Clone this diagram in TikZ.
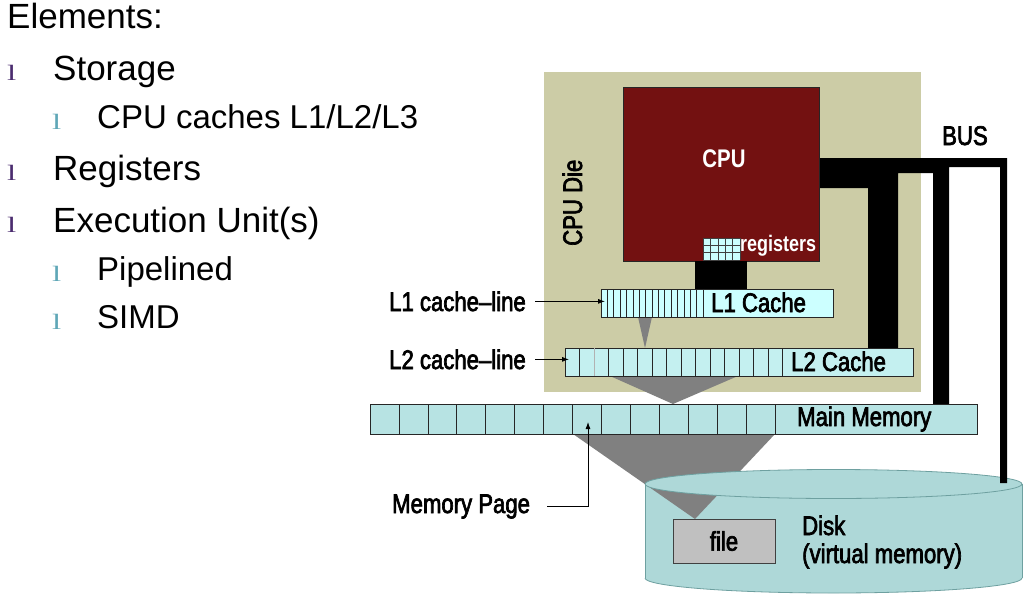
\documentclass[tikz,border=0pt]{standalone}
\usepackage{fontspec}
\setmainfont{Liberation Sans}
\newfontfamily\nar[FakeStretch=0.82,FakeBold=2.5]{Liberation Sans}
\newfontfamily\narbf[FakeStretch=0.8]{Liberation Sans Bold}
\newfontfamily\bulf[FakeStretch=1.5]{Liberation Serif}
\usetikzlibrary{arrows.meta}
\definecolor{diebg}{RGB}{204,204,166}
\definecolor{cpured}{RGB}{115,17,17}
\definecolor{lonec}{RGB}{204,255,255}
\definecolor{ltwoc}{RGB}{196,240,240}
\definecolor{mmc}{RGB}{183,227,227}
\definecolor{diskc}{RGB}{174,216,216}
\definecolor{diskedge}{RGB}{110,160,160}
\definecolor{funnelc}{RGB}{128,128,128}
\definecolor{filec}{RGB}{192,192,192}
\definecolor{bulone}{RGB}{75,44,111}
\definecolor{bultwo}{RGB}{95,167,183}
\begin{document}
\begin{tikzpicture}[x=1pt,y=-1pt,
  lab/.style={inner sep=0pt, anchor=base west, font=\nar\fontsize{27}{30}\selectfont},
  wlab/.style={inner sep=0pt, anchor=base, text=white, font=\narbf\fontsize{25.5}{30}\selectfont},
  lvlone/.style={inner sep=0pt, anchor=base west, font=\fontsize{35}{40}\selectfont},
  lvltwo/.style={inner sep=0pt, anchor=base west, font=\fontsize{33}{38}\selectfont},
  bone/.style={inner sep=0pt, anchor=base west, text=bulone, font=\bulf\fontsize{22}{26}\selectfont},
  btwo/.style={inner sep=0pt, anchor=base west, text=bultwo, font=\bulf\fontsize{22}{26}\selectfont},
  boxline/.style={draw=black!85, line width=0.8pt},
  cellline/.style={draw=black!85, line width=0.7pt},
  arr/.style={draw=black, line width=0.8pt, -{Latex[length=7pt,width=5pt]}},
  funnel/.style={fill=funnelc}
]
\fill[white] (0,0) rectangle (1025,597);
\useasboundingbox (0,0) rectangle (1025,597);

% ---------- left bullet list ----------
\node[lvlone] (elem) at (7,28) {Elements:};
\node[bone] (b1) at (7,80) {l};
\node[lvlone] (stor) at (53,80) {Storage};
\node[btwo] (b2) at (52,129) {l};
\node[lvltwo] (cach) at (97,128) {CPU caches L1/L2/L3};
\node[bone] (b3) at (7,180) {l};
\node[lvlone] (regs) at (53,180) {Registers};
\node[bone] (b4) at (7,232) {l};
\node[lvlone] (exec) at (53,232) {Execution Unit(s)};
\node[btwo] (b5) at (52,281) {l};
\node[lvltwo] (pipe) at (97,280) {Pipelined};
\node[btwo] (b6) at (52,329) {l};
\node[lvltwo] (simd) at (97,328) {SIMD};

% ---------- CPU die ----------
\fill[diebg] (544,72) rectangle (921,392);
\node[inner sep=0pt, anchor=base west, rotate=90, font=\nar\fontsize{27}{30}\selectfont] (die) at (582,246) {CPU Die};

% ---------- disk ----------
\fill[diskc] (645,484) rectangle (1022,578);
\fill[diskc] (833.5,578) ellipse [x radius=188.5, y radius=15];
\begin{scope}
  \clip (640,578) rectangle (1025,597);
  \draw[diskedge, line width=0.8pt] (833.5,578) ellipse [x radius=188.5, y radius=15];
\end{scope}
\draw[diskedge, line width=0.8pt] (645,484) -- (645,578) (1022,484) -- (1022,578);
\fill[funnel] (573,434) -- (775,434) -- (695,519) -- cycle;
\draw[diskedge, fill=diskc, line width=0.8pt] (833.5,484) ellipse [x radius=188.5, y radius=14.5];
\node[draw=black!75, fill=filec, line width=0.8pt, minimum width=102pt, minimum height=44pt, inner sep=0pt,
      font=\nar\fontsize{27}{30}\selectfont] (file) at (724,541) {file};
\node[lab] (disk) at (802,535) {Disk};
\node[lab] (virt) at (802,563) {(virtual memory)};

% ---------- bus ----------
\fill[black] (819,158) -- (1007,158) -- (1007,483) -- (1000,483) -- (1000,167) -- (949,167)
  -- (949,405) -- (933,405) -- (933,173) -- (898,173) -- (898,348) -- (868,348) -- (868,188)
  -- (819,188) -- cycle;
\node[lab] (bus) at (942,145) {BUS};

% ---------- CPU ----------
\node[boxline, fill=cpured, minimum width=196pt, minimum height=174pt, inner sep=0pt] (cpu) at (721,174) {};
\node[wlab] (cpulab) at (724,167) {CPU};
\fill[black] (695,261) rectangle (747,289);
% registers grid
\fill[lonec] (703,238) rectangle (740,260);
\foreach \i in {0,...,5} \draw[black!75, line width=0.6pt] ({703+\i*7.4},238) -- ({703+\i*7.4},260);
\foreach \j in {0,...,3} \draw[black!75, line width=0.6pt] (703,{238+\j*7.333}) -- (740,{238+\j*7.333});
\node[inner sep=0pt, anchor=base west, text=white, font=\narbf\fontsize{22.5}{26}\selectfont] (reglab) at (740,251) {registers};

% ---------- funnels between levels ----------
\fill[funnel] (638,317) -- (652,317) -- (645,348) -- cycle;
\fill[funnel] (610,376) -- (738,376) -- (673,404) -- cycle;

% ---------- L1 cache ----------
\draw[boxline, fill=lonec] (601,289) rectangle (833,317);
\foreach \i in {1,...,16} \draw[cellline] ({601+\i*6.375},289) -- ({601+\i*6.375},317);
\node[lab] (l1) at (711,312) {L1 Cache};

% ---------- L2 cache ----------
\draw[boxline, fill=ltwoc] (565,348) rectangle (913,376);
\foreach \i in {1,3,4,...,15} \draw[cellline] ({565+\i*14.5},348) -- ({565+\i*14.5},376);
\draw[black!30, line width=0.7pt] ({565+2*14.5},348) -- ({565+2*14.5},376);
\node[lab] (l2) at (791,371) {L2 Cache};

% ---------- main memory ----------
\draw[boxline, fill=mmc] (370,404) rectangle (977,434);
\foreach \i in {1,...,14} \draw[cellline] ({370+\i*28.93},404) -- ({370+\i*28.93},434);
\node[lab] (mm) at (797,426) {Main Memory};

% ---------- pointer labels ----------
\node[lab] (l1cl) at (389,311) {L1 cache–line};
\node[lab] (l2cl) at (389,369) {L2 cache–line};
\node[lab] (mp) at (392,513) {Memory Page};
\coordinate (l1tip) at (605,303);
\coordinate (l2tip) at (569,361);
\coordinate (mptip) at (588,422);
\draw[arr] ([xshift=9pt]l1cl.east) -- (l1tip |- l1cl.east);
\draw[arr] ([xshift=9pt]l2cl.east) -- (l2tip |- l2cl.east);
\draw[arr] ([xshift=17pt]mp.east) -| (mptip);
\end{tikzpicture}
\end{document}
